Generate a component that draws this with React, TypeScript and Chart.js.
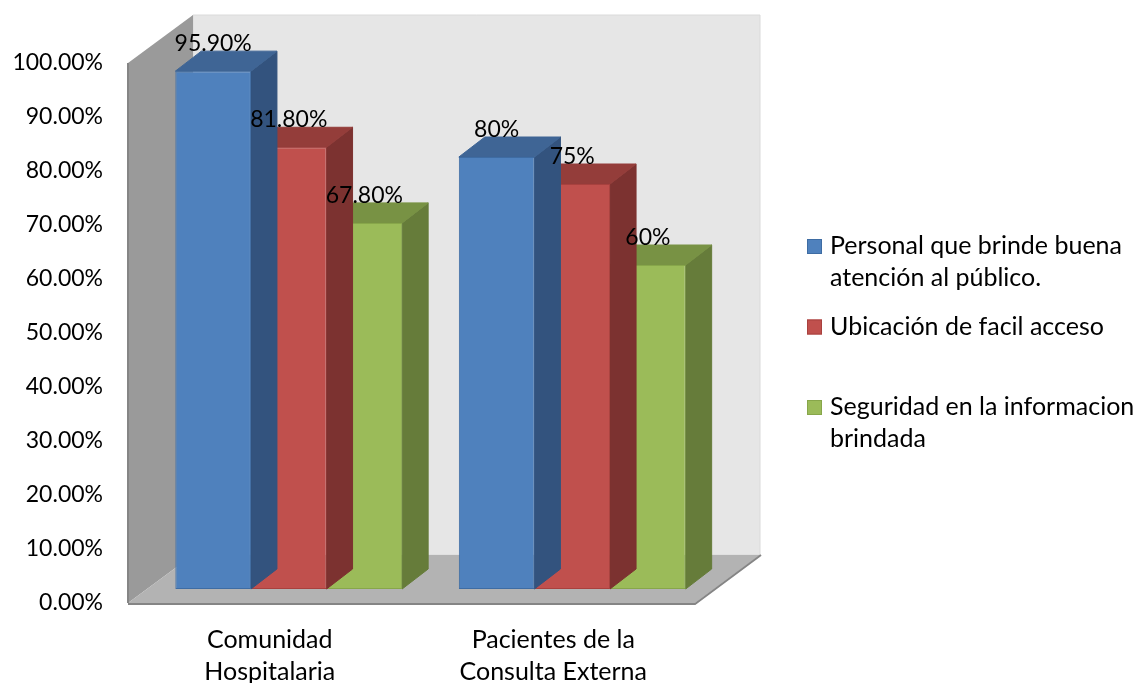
import React, { useEffect, useRef } from 'react';
import { Chart, registerables } from 'chart.js';

Chart.register(...registerables);

// ---------- data ----------
const categories: string[][] = [
  ['Comunidad', 'Hospitalaria'],
  ['Pacientes de la', 'Consulta Externa'],
];
const seriesNames: string[] = [
  'Personal que brinde buena atención al público.',
  'Ubicación de facil acceso',
  'Seguridad en la informacion brindada',
];
const legendLines: string[][] = [
  ['Personal que brinde buena', 'atención al público.'],
  ['Ubicación de facil acceso'],
  ['Seguridad en la informacion', 'brindada'],
];
const personalValues: number[] = [95.9, 80];
const ubicacionValues: number[] = [81.8, 75];
const seguridadValues: number[] = [67.8, 60];
const personalLabels: string[] = ['95.90%', '80%'];
const ubicacionLabels: string[] = ['81.80%', '75%'];
const seguridadLabels: string[] = ['67.80%', '60%'];

const seriesValues = [personalValues, ubicacionValues, seguridadValues];
const seriesLabels = [personalLabels, ubicacionLabels, seguridadLabels];

// ---------- styles ----------
const frontColors = ['#4F81BD', '#C0504D', '#9BBB59'];
const borderColors = ['#3E6CA3', '#A8413E', '#87A64A'];
const topColors = ['#3F6595', '#943D3A', '#789244'];
const sideColors = ['#33537E', '#7C3230', '#667C3A'];

const FONT_FAMILY = 'Lato, "Open Sans", sans-serif';
const NUM_SIZE = 23;
const TEXT_SIZE = 25;

const FRONT_SHIFT = { x: -19, y: 14 }; // bar plane -> front plane
const WALL_DEPTH = { x: 65, y: -48 };
const BAR_DEPTH = { x: 26, y: -20 };

function poly(ctx: CanvasRenderingContext2D, pts: number[][], fill: string, stroke?: string, lw = 1) {
  ctx.beginPath();
  ctx.moveTo(pts[0][0], pts[0][1]);
  for (let i = 1; i < pts.length; i++) ctx.lineTo(pts[i][0], pts[i][1]);
  ctx.closePath();
  ctx.fillStyle = fill;
  ctx.fill();
  if (stroke) {
    ctx.strokeStyle = stroke;
    ctx.lineWidth = lw;
    ctx.stroke();
  }
}

const threeD = {
  id: 'threeD',
  beforeDraw(chart: any) {
    const { ctx, chartArea: ca } = chart;
    const fl = ca.left + FRONT_SHIFT.x;
    const fr = ca.right + FRONT_SHIFT.x;
    const ft = ca.top + FRONT_SHIFT.y;
    const fb = ca.bottom + FRONT_SHIFT.y;
    const bl = fl + WALL_DEPTH.x;
    const br = fr + WALL_DEPTH.x;
    const bt = ft + WALL_DEPTH.y;
    const bb = fb + WALL_DEPTH.y;
    ctx.save();
    // back wall
    poly(ctx, [[bl, bt], [br, bt], [br, bb], [bl, bb]], '#E6E6E6', '#DADADA');
    // left wall
    poly(ctx, [[fl, ft], [bl, bt], [bl, bb], [fl, fb]], '#9A9A9A');
    // floor
    poly(ctx, [[fl, fb], [fr, fb], [br, bb], [bl, bb]], '#B3B3B3');
    // edges
    ctx.strokeStyle = '#858585';
    ctx.lineWidth = 2;
    ctx.beginPath();
    ctx.moveTo(fl, fb + 1);
    ctx.lineTo(fr, fb + 1);
    ctx.lineTo(br + 1, bb);
    ctx.stroke();
    ctx.beginPath();
    ctx.moveTo(fl, ft);
    ctx.lineTo(fl, fb);
    ctx.stroke();
    ctx.restore();
  },
  beforeDatasetDraw(chart: any, args: any) {
    const { ctx } = chart;
    const di = args.index;
    const meta = chart.getDatasetMeta(di);
    ctx.save();
    meta.data.forEach((el: any) => {
      const p = el.getProps(['x', 'y', 'base', 'width'], true);
      const l = p.x - p.width / 2;
      const r = p.x + p.width / 2;
      const t = p.y;
      const b = p.base;
      const dx = BAR_DEPTH.x;
      const dy = BAR_DEPTH.y;
      poly(ctx, [[r, t], [r + dx, t + dy], [r + dx, b + dy], [r, b]], sideColors[di], sideColors[di], 1);
      poly(ctx, [[l, t], [l + dx, t + dy], [r + dx, t + dy], [r, t]], topColors[di], topColors[di], 1);
    });
    ctx.restore();
  },
  afterDatasetsDraw(chart: any) {
    const { ctx } = chart;
    ctx.save();
    ctx.font = `${NUM_SIZE}px ${FONT_FAMILY}`;
    ctx.fillStyle = '#000';
    ctx.textAlign = 'center';
    ctx.textBaseline = 'alphabetic';
    chart.data.datasets.forEach((ds: any, di: number) => {
      const meta = chart.getDatasetMeta(di);
      meta.data.forEach((el: any, i: number) => {
        const p = el.getProps(['x', 'y'], true);
        ctx.fillText(seriesLabels[di][i], p.x, p.y - 20);
      });
    });
    // legend
    const lx = 807;
    const firstBase = 254;
    const slot = 80.5;
    const lineH = 32;
    const sq = 15;
    ctx.font = `${TEXT_SIZE}px ${FONT_FAMILY}`;
    ctx.textAlign = 'left';
    legendLines.forEach((lines, i) => {
      const base = firstBase + i * slot;
      ctx.fillStyle = frontColors[i];
      ctx.fillRect(lx, base - sq, sq, sq);
      ctx.strokeStyle = borderColors[i];
      ctx.lineWidth = 1;
      ctx.strokeRect(lx + 0.5, base - sq + 0.5, sq - 1, sq - 1);
      ctx.fillStyle = '#000';
      lines.forEach((line, j) => {
        ctx.fillText(line, lx + 23, base + j * lineH);
      });
    });
    ctx.restore();
  },
};

export default function App() {
  const ref = useRef<HTMLCanvasElement | null>(null);
  useEffect(() => {
    if (!ref.current) return;
    const numFont = { family: FONT_FAMILY, size: NUM_SIZE, lineHeight: '32px' };
    const textFont = { family: FONT_FAMILY, size: TEXT_SIZE, lineHeight: '32px' };
    const chart = new Chart(ref.current, {
      type: 'bar',
      data: {
        labels: categories as any,
        datasets: seriesValues.map((vals, i) => ({
          label: seriesNames[i],
          data: vals,
          backgroundColor: frontColors[i],
          borderColor: borderColors[i],
          borderWidth: 1,
          borderSkipped: false,
          barPercentage: 1,
          categoryPercentage: 0.8,
        })),
      },
      options: {
        animation: false,
        responsive: true,
        maintainAspectRatio: false,
        layout: { padding: { left: 0, top: 49, right: 422, bottom: 0 } },
        plugins: { legend: { display: false }, tooltip: { enabled: false } },
        scales: {
          x: {
            grid: { display: false, drawTicks: false },
            border: { display: false },
            ticks: { font: textFont, color: '#000', labelOffset: -19, padding: 35, maxRotation: 0, autoSkip: false },
            afterFit: (s: any) => {
              s.height = 94;
              s.paddingLeft = 0;
              s.paddingRight = 0;
            },
          },
          y: {
            min: 0,
            max: 100,
            grid: { display: false, drawTicks: false },
            border: { display: false },
            ticks: {
              stepSize: 10,
              font: numFont,
              color: '#000',
              padding: 44,
              labelOffset: 14,
              callback: (v: any) => Number(v).toFixed(2) + '%',
            },
            afterFit: (s: any) => {
              s.width = 147;
              s.paddingTop = 0;
              s.paddingBottom = 0;
            },
          },
        },
      } as any,
      plugins: [threeD],
    });
    return () => chart.destroy();
  }, []);
  return (
    <div style={{ position: 'fixed', left: 0, top: 0, width: 1136, height: 683, background: '#fff' }}>
      <canvas ref={ref} />
    </div>
  );
}
